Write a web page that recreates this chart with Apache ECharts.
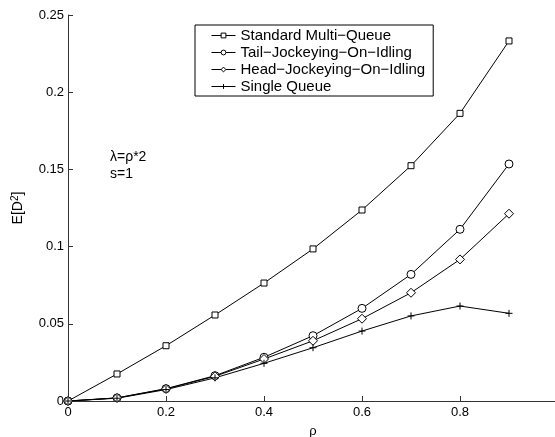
<!DOCTYPE html>
<html>
<head>
<meta charset="utf-8">
<script src="https://cdn.jsdelivr.net/npm/echarts@6/dist/echarts.min.js"></script>
<style>
  html, body { margin: 0; padding: 0; background: #fff; }
  #main { width: 555px; height: 437px; }
</style>
</head>
<body>
<div id="main"></div>
<script>
// rho values
var rho = [0, 0.1, 0.2, 0.3, 0.4, 0.5, 0.6, 0.7, 0.8, 0.9];

// E[D^2] per policy
var standardMQ = [0, 0.0175, 0.0358, 0.0557, 0.0764, 0.0985, 0.1237, 0.1524, 0.1863, 0.2332];
var tailJock   = [0, 0.0020, 0.0080, 0.0164, 0.0283, 0.0423, 0.0600, 0.0820, 0.1112, 0.1535];
var headJock   = [0, 0.0020, 0.0078, 0.0160, 0.0272, 0.0390, 0.0533, 0.0701, 0.0917, 0.1213];
var singleQ    = [0, 0.0018, 0.0074, 0.0150, 0.0244, 0.0345, 0.0453, 0.0551, 0.0615, 0.0568];

var seriesNames = ['Standard Multi\u2212Queue', 'Tail\u2212Jockeying\u2212On\u2212Idling',
                   'Head\u2212Jockeying\u2212On\u2212Idling', 'Single Queue'];

var yTicks = [0, 0.05, 0.1, 0.15, 0.2, 0.25];

var FONT = "'Liberation Sans', Arial, Helvetica, sans-serif";
var plusPath = 'path://M0,5L10,5M5,0L5,10';

function pairs(vals) {
    var out = [];
    for (var i = 0; i < rho.length; i++) out.push([rho[i], vals[i]]);
    return out;
}

function mkSeries(name, vals, symbol, size) {
    return {
        name: name,
        type: 'line',
        data: pairs(vals),
        symbol: symbol,
        symbolSize: size,
        showAllSymbol: true,
        animation: false,
        lineStyle: { color: '#000', width: 1 },
        itemStyle: { color: '#fff', borderColor: '#000', borderWidth: 1 },
        emphasis: { disabled: true }
    };
}

var myChart = echarts.init(document.getElementById('main'));
var option = {
    backgroundColor: '#fff',
    animation: false,
    textStyle: { fontFamily: FONT },
    grid: { left: 68, width: 490, top: 15, bottom: 36, outerBoundsMode: 'none', containLabel: false },
    legend: {
        orient: 'vertical',
        left: 195,
        top: 25,
        data: seriesNames,
        itemWidth: 24,
        itemHeight: 6,
        itemGap: 2,
        padding: [3, 8, 2, 16],
        borderColor: '#000',
        borderWidth: 1,
        lineStyle: { width: 1, color: '#000' },
        itemStyle: { borderWidth: 1, borderColor: '#000', color: '#fff' },
        textStyle: { fontFamily: FONT, fontSize: 15, color: '#000' }
    },
    xAxis: {
        type: 'value',
        min: 0, max: 1, interval: 0.2,
        name: '\u03c1',
        nameLocation: 'middle',
        nameGap: 24,
        nameTextStyle: { fontFamily: FONT, fontSize: 13, color: '#000' },
        axisLine: { lineStyle: { color: '#333', width: 1 } },
        axisTick: { inside: true, length: 5, lineStyle: { color: '#333' } },
        splitLine: { show: false },
        axisLabel: {
            color: '#000', fontFamily: FONT, fontSize: 13, margin: 5,
            formatter: function (v) { return v >= 1 ? '' : String(+v.toFixed(1)); }
        }
    },
    yAxis: {
        type: 'value',
        min: yTicks[0], max: yTicks[yTicks.length - 1], interval: 0.05,
        name: '{n|E[D}{s|2}{n|]}',
        nameLocation: 'middle',
        nameGap: 42,
        nameRotate: 90,
        nameTextStyle: {
            rich: {
                n: { fontFamily: FONT, fontSize: 14, color: '#000' },
                s: { fontFamily: FONT, fontSize: 10, color: '#000', verticalAlign: 'top', padding: [0, 0, 6, 0] }
            }
        },
        axisLine: { show: true, lineStyle: { color: '#333', width: 1 } },
        axisTick: { show: true, inside: true, length: 5, lineStyle: { color: '#333' } },
        splitLine: { show: false },
        axisLabel: {
            color: '#000', fontFamily: FONT, fontSize: 13, margin: 4,
            formatter: function (v) { return String(+v.toFixed(2)); }
        }
    },
    graphic: [
        {
            type: 'text', left: 110, top: 149,
            style: { text: '\u03bb=\u03c1*2\ns=1', fontFamily: FONT, fontSize: 14, fill: '#000', lineHeight: 17 }
        }
    ],
    series: [
        mkSeries(seriesNames[0], standardMQ, 'rect', 6),
        mkSeries(seriesNames[1], tailJock, 'circle', 8),
        mkSeries(seriesNames[2], headJock, 'diamond', 9),
        mkSeries(seriesNames[3], singleQ, plusPath, 7)
    ]
};
myChart.setOption(option);
</script>
</body>
</html>
